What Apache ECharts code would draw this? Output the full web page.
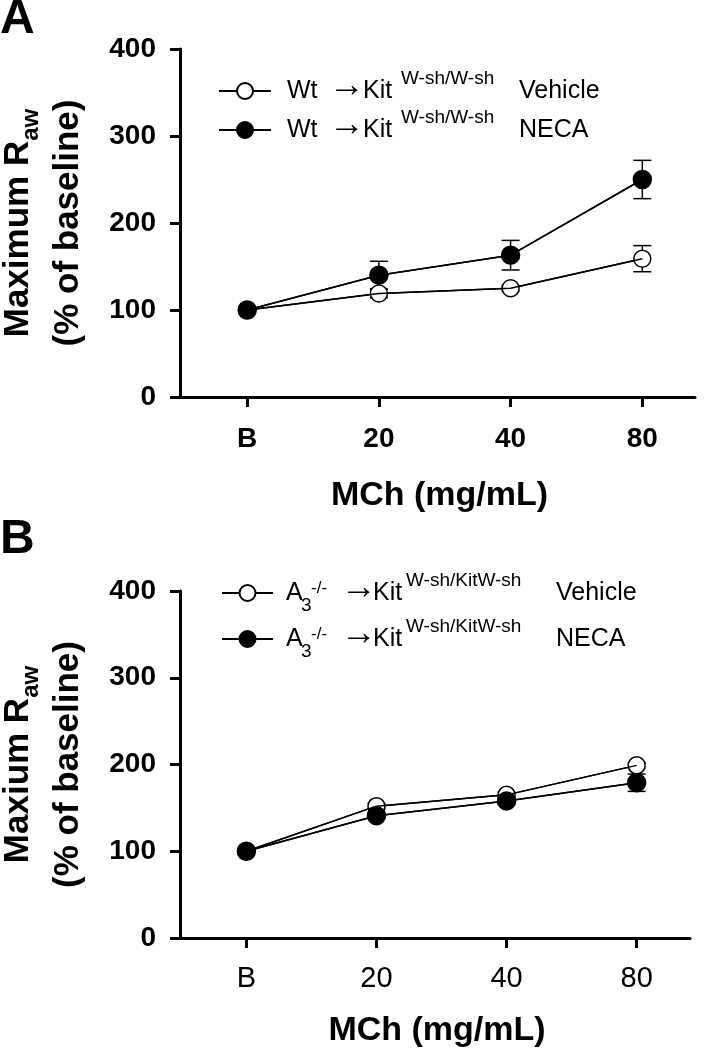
<!DOCTYPE html>
<html>
<head>
<meta charset="utf-8">
<script src="https://cdn.jsdelivr.net/npm/echarts@6/dist/echarts.min.js"></script>
<style>
html,body{margin:0;padding:0;background:#fff;}
#chart{width:711px;height:1050px;}
</style>
</head>
<body>
<div id="chart"></div>
<script>
// ---- data ----
const xLabels = ['B', '20', '40', '80'];
const yTicks = [0, 100, 200, 300, 400];

const aVehicle = [100, 119, 125, 159];
const aVehicleErr = [0, 5, 3, 15];
const aNeca = [100, 140, 163, 250];
const aNecaErr = [0, 16, 17, 22];

const bVehicle = [100, 152, 165, 199];
const bVehicleErr = [0, 3, 3, 3];
const bNeca = [100, 141, 158, 179];
const bNecaErr = [0, 3, 3, 10];

const nameAVeh = 'A Vehicle', nameANeca = 'A NECA', nameBVeh = 'B Vehicle', nameBNeca = 'B NECA';

// ---- helpers ----
const FONT = 'Arial, "Liberation Sans", Helvetica, sans-serif';
const ARROW = '\u2192';
function pts(arr) { return arr.map((v, i) => [i, v]); }

function errSeries(xi, means, errs) {
  return {
    type: 'custom', xAxisIndex: xi, yAxisIndex: xi, z: 1, silent: true,
    encode: { x: 0, y: [1, 2] },
    data: means.map((m, i) => [i, m - errs[i], m + errs[i]]),
    renderItem: function (params, api) {
      const x = api.value(0), lo = api.value(1), hi = api.value(2);
      if (hi - lo <= 0) return { type: 'group', children: [] };
      const p1 = api.coord([x, hi]), p2 = api.coord([x, lo]);
      const w = 9, st = { stroke: '#000', lineWidth: 1.5 };
      return {
        type: 'group', children: [
          { type: 'line', shape: { x1: p1[0], y1: p1[1], x2: p2[0], y2: p2[1] }, style: st },
          { type: 'line', shape: { x1: p1[0] - w, y1: p1[1], x2: p1[0] + w, y2: p1[1] }, style: st },
          { type: 'line', shape: { x1: p2[0] - w, y1: p2[1], x2: p2[0] + w, y2: p2[1] }, style: st }
        ]
      };
    }
  };
}
function markerSeries(xi, name, vals, filled) {
  return {
    type: 'line', name: name, xAxisIndex: xi, yAxisIndex: xi, z: 2,
    data: pts(vals), symbol: 'circle', symbolSize: filled ? 18 : 17,
    lineStyle: { color: '#000', width: 1.5 },
    itemStyle: { color: filled ? '#000' : '#fff', borderColor: '#000', borderWidth: 1.5 },
    emphasis: { disabled: true }, silent: true
  };
}
function overlayLine(xi, vals) {
  return {
    type: 'line', xAxisIndex: xi, yAxisIndex: xi, z: 3, data: pts(vals),
    symbol: 'none', lineStyle: { color: '#000', width: 1.5 }, silent: true
  };
}

function xAxisCfg(gi, bold, nameGap) {
  return {
    type: 'value', gridIndex: gi, min: -0.51, max: gi === 0 ? 3.4 : 3.41,
    name: 'MCh (mg/mL)', nameLocation: 'middle', nameGap: nameGap,
    nameTextStyle: { fontFamily: FONT, fontSize: 34, fontWeight: 'bold', color: '#000', padding: [0, 0, 0, 4] },
    axisLine: { onZero: false, lineStyle: { color: '#000', width: 3 } },
    axisTick: { customValues: [0, 1, 2, 3], length: 10, lineStyle: { color: '#000', width: 3 } },
    axisLabel: {
      customValues: [0, 1, 2, 3], formatter: v => xLabels[Math.round(v)],
      fontFamily: FONT, fontSize: bold ? 28 : 29, fontWeight: bold ? 'bold' : 'normal', color: '#000',
      margin: bold ? 28 : 26
    },
    splitLine: { show: false }
  };
}
function yAxisCfg(gi, line1) {
  return {
    type: 'value', gridIndex: gi, min: yTicks[0], max: yTicks[yTicks.length - 1], interval: 100,
    name: '{t|' + line1 + '}{s|aw}\n{t|(% of baseline)}',
    nameLocation: 'middle', nameRotate: 90, nameGap: 87,
    nameTextStyle: {
      color: '#000',
      rich: {
        t: { fontFamily: FONT, fontSize: 35, fontWeight: 'bold', lineHeight: 50, color: '#000' },
        s: { fontFamily: FONT, fontSize: 24, fontWeight: 'bold', lineHeight: 24, verticalAlign: 'bottom', color: '#000' }
      }
    },
    axisLine: { show: true, onZero: false, lineStyle: { color: '#000', width: 3 } },
    axisTick: { show: true, length: 10, lineStyle: { color: '#000', width: 3 } },
    axisLabel: { fontFamily: FONT, fontSize: 28, fontWeight: 'bold', color: '#000', margin: 24 },
    splitLine: { show: false }
  };
}

const LF = 25, SF = 19;
const legRichA = {
  g: { width: 11, fontSize: LF, lineHeight: 44, fontFamily: FONT, color: '#000' },
  a: { width: 42, fontSize: LF, lineHeight: 44, fontFamily: FONT, color: '#000' },
  r: { width: 34, fontSize: 36, lineHeight: 34, padding: [0, 0, 10, 0], fontFamily: FONT, color: '#000' },
  k: { width: 38, fontSize: LF, lineHeight: 44, fontFamily: FONT, color: '#000' },
  p: { width: 118, fontSize: SF, verticalAlign: 'top', fontFamily: FONT, color: '#000' },
  v: { fontSize: LF, lineHeight: 44, fontFamily: FONT, color: '#000' }
};
const legRichB = {
  g: { width: 8, fontSize: LF, lineHeight: 44, fontFamily: FONT, color: '#000' },
  a: { width: 15, fontSize: LF, lineHeight: 44, fontFamily: FONT, color: '#000' },
  s: { width: 10, fontSize: SF, verticalAlign: 'bottom', fontFamily: FONT, color: '#000' },
  m: { width: 30, fontSize: 17, verticalAlign: 'top', padding: [9, 0, 0, 0], fontFamily: FONT, color: '#000' },
  r: { width: 32, fontSize: 36, lineHeight: 34, padding: [0, 0, 10, 0], fontFamily: FONT, color: '#000' },
  k: { width: 33, fontSize: LF, lineHeight: 44, fontFamily: FONT, color: '#000' },
  p: { width: 150, fontSize: SF, verticalAlign: 'top', fontFamily: FONT, color: '#000' },
  v: { fontSize: LF, lineHeight: 44, fontFamily: FONT, color: '#000' }
};
function legA(name, label, top) {
  return {
    data: [name], orient: 'vertical', left: 218, top: top, padding: 0,
    itemWidth: 52, itemHeight: 20, selectedMode: false,
    formatter: () => '{g| }{a|Wt}{r|' + ARROW + '}{k|Kit}{p|W-sh/W-sh}{v|' + label + '}',
    textStyle: { rich: legRichA }
  };
}
function legB(name, label, top) {
  return {
    data: [name], orient: 'vertical', left: 221, top: top, padding: 0,
    itemWidth: 51, itemHeight: 20, selectedMode: false,
    formatter: () => '{g| }{a|A}{s|3}{m|-/-}{r|' + ARROW + '}{k|Kit}{p|W-sh/KitW-sh}{v|' + label + '}',
    textStyle: { rich: legRichB }
  };
}

const chart = echarts.init(document.getElementById('chart'), null, { renderer: 'canvas' });
chart.setOption({
  animation: false,
  backgroundColor: '#fff',
  graphic: [
    { type: 'text', x: 0, y: -4, style: { text: 'A', font: 'bold 48px ' + FONT, fill: '#000', textVerticalAlign: 'top' } },
    { type: 'text', x: 0, y: 516, style: { text: 'B', font: 'bold 48px ' + FONT, fill: '#000', textVerticalAlign: 'top' } }
  ],
  grid: [
    { left: 180, top: 49, width: 515, height: 348, containLabel: false, outerBoundsMode: 'none' },
    { left: 180, top: 591, width: 510, height: 347, containLabel: false, outerBoundsMode: 'none' }
  ],
  xAxis: [xAxisCfg(0, true, 82), xAxisCfg(1, false, 76)],
  yAxis: [yAxisCfg(0, 'Maximum R'), yAxisCfg(1, 'Maxium R')],
  legend: [
    legA(nameAVeh, 'Vehicle', 68),
    legA(nameANeca, 'NECA', 107),
    legB(nameBVeh, 'Vehicle', 570),
    legB(nameBNeca, 'NECA', 616)
  ],
  series: [
    errSeries(0, aVehicle, aVehicleErr),
    errSeries(0, aNeca, aNecaErr),
    markerSeries(0, nameAVeh, aVehicle, false),
    markerSeries(0, nameANeca, aNeca, true),
    overlayLine(0, aVehicle),
    overlayLine(0, aNeca),
    errSeries(1, bVehicle, bVehicleErr),
    errSeries(1, bNeca, bNecaErr),
    markerSeries(1, nameBVeh, bVehicle, false),
    markerSeries(1, nameBNeca, bNeca, true),
    overlayLine(1, bVehicle),
    overlayLine(1, bNeca)
  ]
});
</script>
</body>
</html>
